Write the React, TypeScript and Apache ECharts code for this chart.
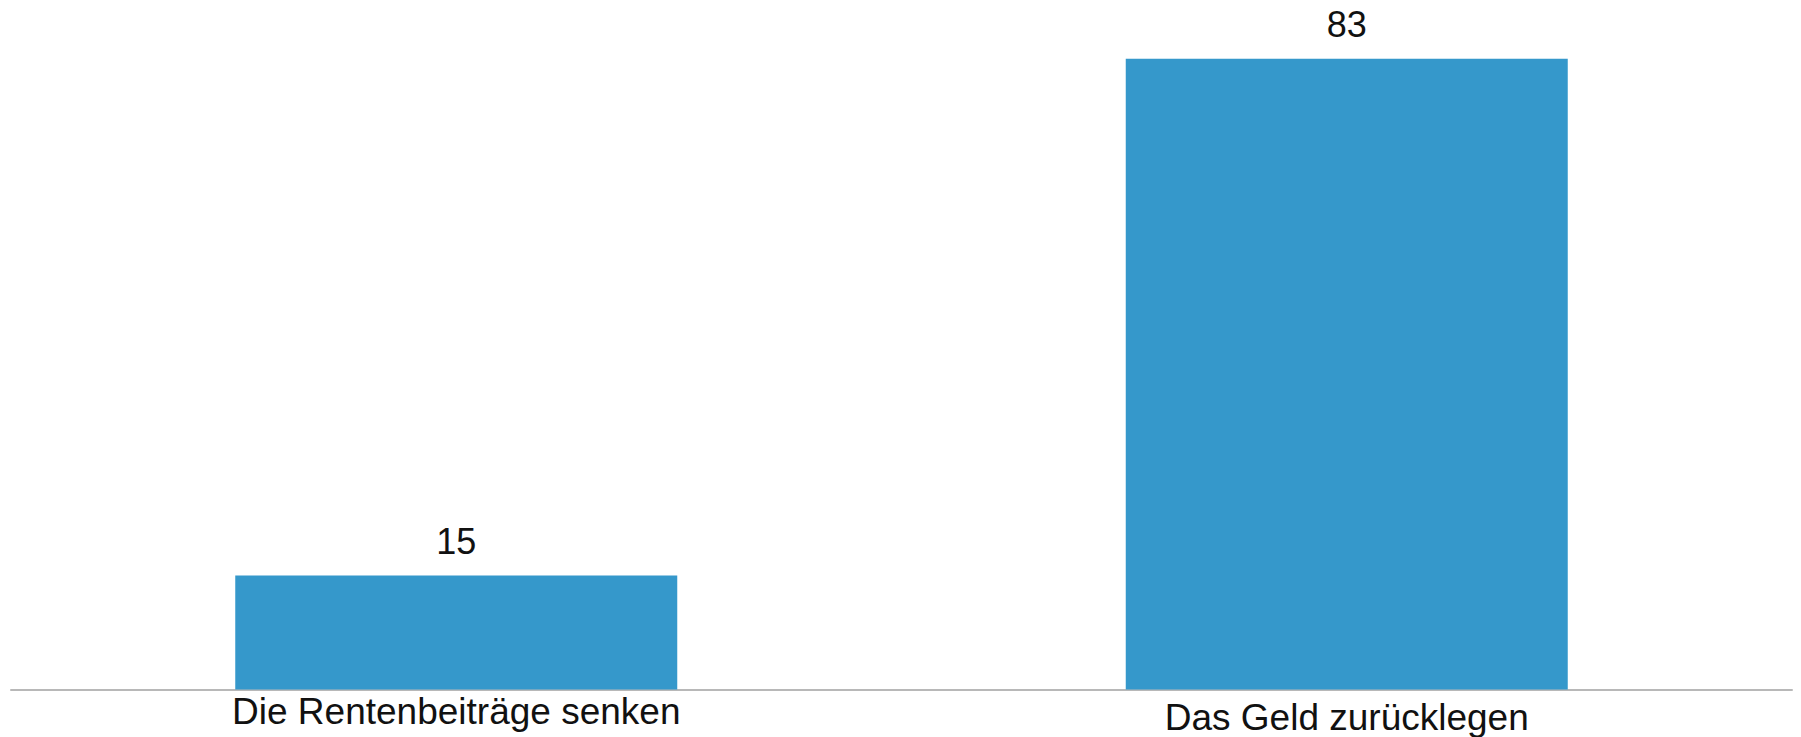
import React, { useEffect, useRef } from "react";
import * as echarts from "echarts";

const categories = ["Die Rentenbeiträge senken", "Das Geld zurücklegen"];
const values = [15, 83];
const labelShift = [0, 6];

export default function App() {
  const ref = useRef<HTMLDivElement>(null);
  useEffect(() => {
    document.body.style.margin = "0";
    const chart = echarts.init(ref.current!, null, { renderer: "svg" });
    const font = "'Liberation Sans', Arial, sans-serif";
    chart.setOption({
      animation: false,
      grid: { left: 11, right: 9, top: 5.5, bottom: 47.5, containLabel: false },
      xAxis: {
        type: "category",
        data: categories,
        axisLine: { show: true, lineStyle: { color: "#b8b8b8", width: 2 } },
        axisTick: { show: false },
        axisLabel: {
          margin: 3,
          interval: 0,
          formatter: (v: string, i: number) => (labelShift[i] ? `{b|${v}}` : `{a|${v}}`),
          rich: {
            a: { fontSize: 37, fontFamily: font, color: "#111" },
            b: { fontSize: 37, fontFamily: font, color: "#111", padding: [labelShift[1], 0, 0, 0] },
          },
        },
      },
      yAxis: {
        type: "value",
        min: 0,
        max: 90,
        show: false,
        splitLine: { show: false },
      },
      series: [
        {
          type: "bar",
          data: values,
          barWidth: 442,
          itemStyle: { color: "#3598cb" },
          label: {
            show: true,
            position: "top",
            distance: 16,
            fontSize: 36,
            fontFamily: font,
            color: "#111",
          },
        },
      ],
    });
    return () => chart.dispose();
  }, []);
  return <div ref={ref} style={{ width: 1801, height: 737 }} />;
}
